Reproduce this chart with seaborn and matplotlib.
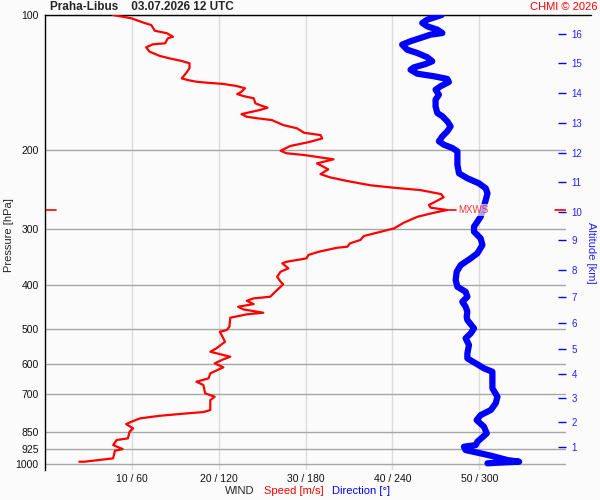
import matplotlib.pyplot as plt
import numpy as np
import pandas as pd
import seaborn as sns
from matplotlib.ticker import NullLocator

# wind speed profile (red), pressure in hPa / speed in m/s
speed_hpa = [100.0, 101.7, 104.0, 105.3, 108.4, 109.8, 111.8, 112.7, 115.6, 116.2,
             118.0, 120.7, 123.4, 124.9, 126.6, 128.1, 131.4, 134.8, 138.4, 139.6,
             140.8, 141.5, 142.4, 143.9, 145.6, 148.2, 150.0, 151.5, 153.3, 157.3,
             158.7, 160.9, 162.8, 166.2, 168.5, 169.9, 171.4, 175.8, 178.8, 182.9,
             185.1, 188.3, 191.6, 195.8, 200.6, 203.2, 205.0, 207.5, 209.6, 214.0,
             220.7, 226.1, 229.9, 234.3, 239.5, 242.5, 245.4, 250.5, 254.7, 264.9,
             268.6, 271.8, 275.6, 281.3, 290.1, 298.6, 305.4, 310.6, 317.0, 322.5,
             328.1, 329.9, 336.7, 342.3, 348.3, 354.4, 357.3, 366.6, 373.1, 382.7,
             392.6, 397.9, 406.2, 416.8, 424.1, 427.6, 432.9, 440.3, 446.4, 452.4,
             460.3, 464.1, 472.2, 494.6, 503.0, 507.4, 524.8, 534.1, 552.5, 562.2,
             576.8, 584.6, 596.7, 609.0, 628.1, 644.4, 655.7, 666.8, 695.8, 708.1,
             720.2, 758.1, 766.0, 771.2, 780.7, 791.2, 805.2, 814.7, 832.9, 847.2,
             876.6, 884.2, 907.3, 926.1, 934.1, 971.2, 979.8, 988.1, 988.1]
speed_ms = [7.8, 9.9, 11.3, 12.2, 12.6, 14.0, 14.7, 14.1, 13.8, 12.4,
            11.6, 12.0, 13.2, 14.3, 15.7, 16.6, 16.6, 16.2, 15.7, 16.4,
            17.4, 18.6, 20.5, 22.0, 23.0, 22.6, 22.1, 22.8, 24.0, 24.2,
            24.7, 25.6, 24.7, 22.6, 23.2, 24.5, 26.1, 27.4, 29.0, 29.8,
            31.7, 31.9, 30.5, 28.2, 27.1, 27.8, 29.8, 31.7, 33.2, 31.3,
            32.6, 31.7, 32.8, 34.8, 37.5, 40.2, 43.2, 45.6, 45.9, 44.2,
            44.4, 46.3, 44.8, 42.9, 41.3, 40.2, 38.2, 36.7, 36.3, 35.1,
            34.8, 33.6, 31.5, 30.3, 30.1, 27.8, 27.3, 28.0, 27.1, 26.7,
            27.1, 27.4, 26.9, 26.3, 25.9, 24.0, 23.2, 24.0, 22.2, 22.8,
            25.1, 23.2, 21.3, 21.2, 20.9, 20.1, 20.5, 20.7, 19.7, 19.0,
            21.3, 20.5, 19.5, 20.5, 19.0, 18.8, 17.4, 18.2, 18.4, 19.5,
            19.0, 19.0, 18.2, 16.3, 13.2, 10.9, 9.9, 9.3, 10.1, 9.7,
            9.5, 8.2, 7.8, 8.9, 8.0, 7.8, 6.1, 4.5, 3.9]

# wind direction profile (blue), pressure in hPa / direction in degrees
dir_hpa = [100.0, 102.4, 104.2, 106.0, 107.8, 109.7, 110.6, 112.5, 114.4, 116.4,
           119.5, 121.5, 124.2, 126.8, 128.6, 130.8, 132.4, 135.1, 136.9, 138.8,
           141.0, 144.1, 146.7, 150.5, 154.4, 159.7, 165.3, 168.1, 172.5, 177.0,
           181.6, 186.3, 191.1, 194.5, 197.8, 201.2, 208.3, 215.5, 225.2, 231.0,
           237.1, 243.2, 249.6, 258.2, 269.5, 281.3, 296.1, 303.8, 314.4, 325.3,
           339.4, 348.3, 360.5, 373.1, 389.3, 402.9, 413.4, 424.1, 435.1, 446.4,
           458.0, 469.8, 477.9, 498.8, 511.7, 524.8, 543.2, 566.9, 581.6, 596.7,
           612.2, 623.0, 650.1, 678.3, 708.1, 732.4, 758.1, 778.0, 798.1, 826.0,
           854.5, 892.1, 907.3, 915.1, 930.8, 946.7, 959.9, 979.8, 988.1, 993.2,
           996.2]
dir_deg = [274.0, 264.1, 260.6, 264.1, 271.0, 274.5, 266.3, 259.4, 252.5, 246.7,
           250.2, 257.1, 264.1, 267.5, 262.9, 254.8, 252.5, 257.1, 268.6, 277.9,
           279.0, 273.3, 269.8, 272.1, 269.8, 269.8, 271.0, 274.5, 277.9, 280.2,
           277.9, 274.5, 272.1, 275.6, 281.4, 284.9, 284.9, 284.9, 286.0, 291.8,
           299.8, 304.5, 305.7, 304.5, 302.9, 301.0, 296.4, 296.4, 301.0, 302.2,
           298.7, 294.1, 287.2, 284.4, 283.7, 284.9, 290.6, 291.8, 288.3, 290.6,
           291.8, 291.3, 291.8, 296.4, 294.1, 290.6, 292.9, 291.8, 291.8, 297.6,
           303.3, 309.1, 309.1, 309.1, 312.6, 311.4, 308.0, 301.0, 298.2, 303.3,
           305.2, 298.7, 297.6, 289.4, 290.6, 301.0, 309.1, 319.5, 327.6, 312.6,
           305.7]

pres_ticks = [100, 200, 300, 400, 500, 600, 700, 850, 925, 1000]
speed_ticks = [10, 20, 30, 40, 50]
alt_km = [1, 2, 3, 4, 5, 6, 7, 8, 9, 10, 11, 12, 13, 14, 15, 16]
alt_hpa = [915, 808, 714, 631, 553, 486, 424, 370, 317, 274, 236, 203, 174, 149, 128, 110]

bg = '#fbfbfb'
sns.set_style('white')
plt.rcParams['font.family'] = ['Liberation Sans', 'DejaVu Sans']

fig = plt.figure(figsize=(6, 5), dpi=100, facecolor=bg)
ax = fig.add_axes([0.0758, 0.06, 0.8675, 0.91])
ax.set_facecolor(bg)

df_speed = pd.DataFrame({'pres': speed_hpa, 'speed': speed_ms})
df_dir = pd.DataFrame({'pres': dir_hpa, 'dir': dir_deg})

sns.lineplot(data=df_speed, x='speed', y='pres', sort=False, estimator=None,
             color='#ff0000', lw=1.6, ax=ax, zorder=3)

# direction on its own x scale (0-360)
ax2 = ax.twiny()
sns.lineplot(data=df_dir, x='dir', y='pres', sort=False, estimator=None,
             color='#0000ff', lw=4.5, ax=ax2, zorder=3,
             solid_joinstyle='round', solid_capstyle='round')
ax2.set_xlim(0, 360)
ax2.axis('off')

ax.set_yscale('log')
ax.set_ylim(1031, 100)
ax.set_xlim(0, 60)
ax.set_yticks(pres_ticks)
ax.set_yticklabels([str(p) for p in pres_ticks])
ax.yaxis.set_minor_locator(NullLocator())
ax.set_xticks(speed_ticks)
ax.set_xticklabels([f'{s} / {s * 6}' for s in speed_ticks])
ax.tick_params(axis='both', length=0, labelsize=7.5, colors='#111111')
ax.tick_params(axis='x', pad=3)
ax.tick_params(axis='y', pad=5)
ax.set_xlabel('')
ax.set_ylabel('Pressure [hPa]', fontsize=8, va='center')
ax.yaxis.set_label_coords(-0.071, 0.516)

ax.yaxis.grid(True, color='#a6a6a6', lw=1)
ax.xaxis.grid(True, color='#dcdcdc', lw=1)
ax.set_axisbelow(True)
for side in ['bottom', 'right']:
    ax.spines[side].set_visible(False)
for side in ['top', 'left']:
    ax.spines[side].set_color('black')
    ax.spines[side].set_linewidth(1)
ax.plot([1, 1.048], [1, 1], transform=ax.transAxes, color='black', lw=1, clip_on=False)

# altitude axis on the right
ax3 = ax.twinx()
ax3.set_yscale('log')
ax3.set_ylim(1031, 100)
ax3.set_yticks(alt_hpa)
ax3.set_yticklabels([str(a) for a in alt_km])
ax3.yaxis.set_minor_locator(NullLocator())
ax3.tick_params(axis='y', direction='in', length=6, width=1, color='#0000ff',
                labelcolor='#2222ff', labelsize=7, pad=4)
for side in ax3.spines:
    ax3.spines[side].set_visible(False)
ax3.set_ylabel('Altitude [km]', color='#2222ff', fontsize=8, rotation=270, va='center')
ax3.yaxis.set_label_coords(1.048, 0.477)

# max wind marker
imax = int(np.argmax(speed_ms))
s_max, p_max = speed_ms[imax], speed_hpa[imax]
ax.axhline(p_max, xmin=0, xmax=0.021, color='#ff0000', lw=1.2)
ax.axhline(p_max, xmin=0.979, xmax=1, color='#ff0000', lw=1.2)
ax.plot([s_max, s_max + 1.0], [p_max, p_max], color='#ff0000', lw=1.2)
ax3.text(s_max + 1.3, p_max, 'MXWS', color='#ff3333', fontsize=7, va='center', ha='left',
         bbox=dict(facecolor='white', alpha=0.65, edgecolor='none', pad=0.6), zorder=5)

fig.text(0.083, 0.985, 'Praha-Libus    03.07.2026 12 UTC', fontsize=8.5,
         fontweight='bold', va='center', ha='left')
fig.text(0.995, 0.987, 'CHMI © 2026', fontsize=8, color='#ff0000', va='center', ha='right')
fig.text(0.375, 0.018, 'WIND', fontsize=8, va='center', ha='left')
fig.text(0.44, 0.018, 'Speed [m/s]', fontsize=8, color='#ff0000', va='center', ha='left')
fig.text(0.553, 0.018, 'Direction [°]', fontsize=8, color='#0000ff', va='center', ha='left')

fig.savefig('out.png', dpi=100, facecolor=bg)
